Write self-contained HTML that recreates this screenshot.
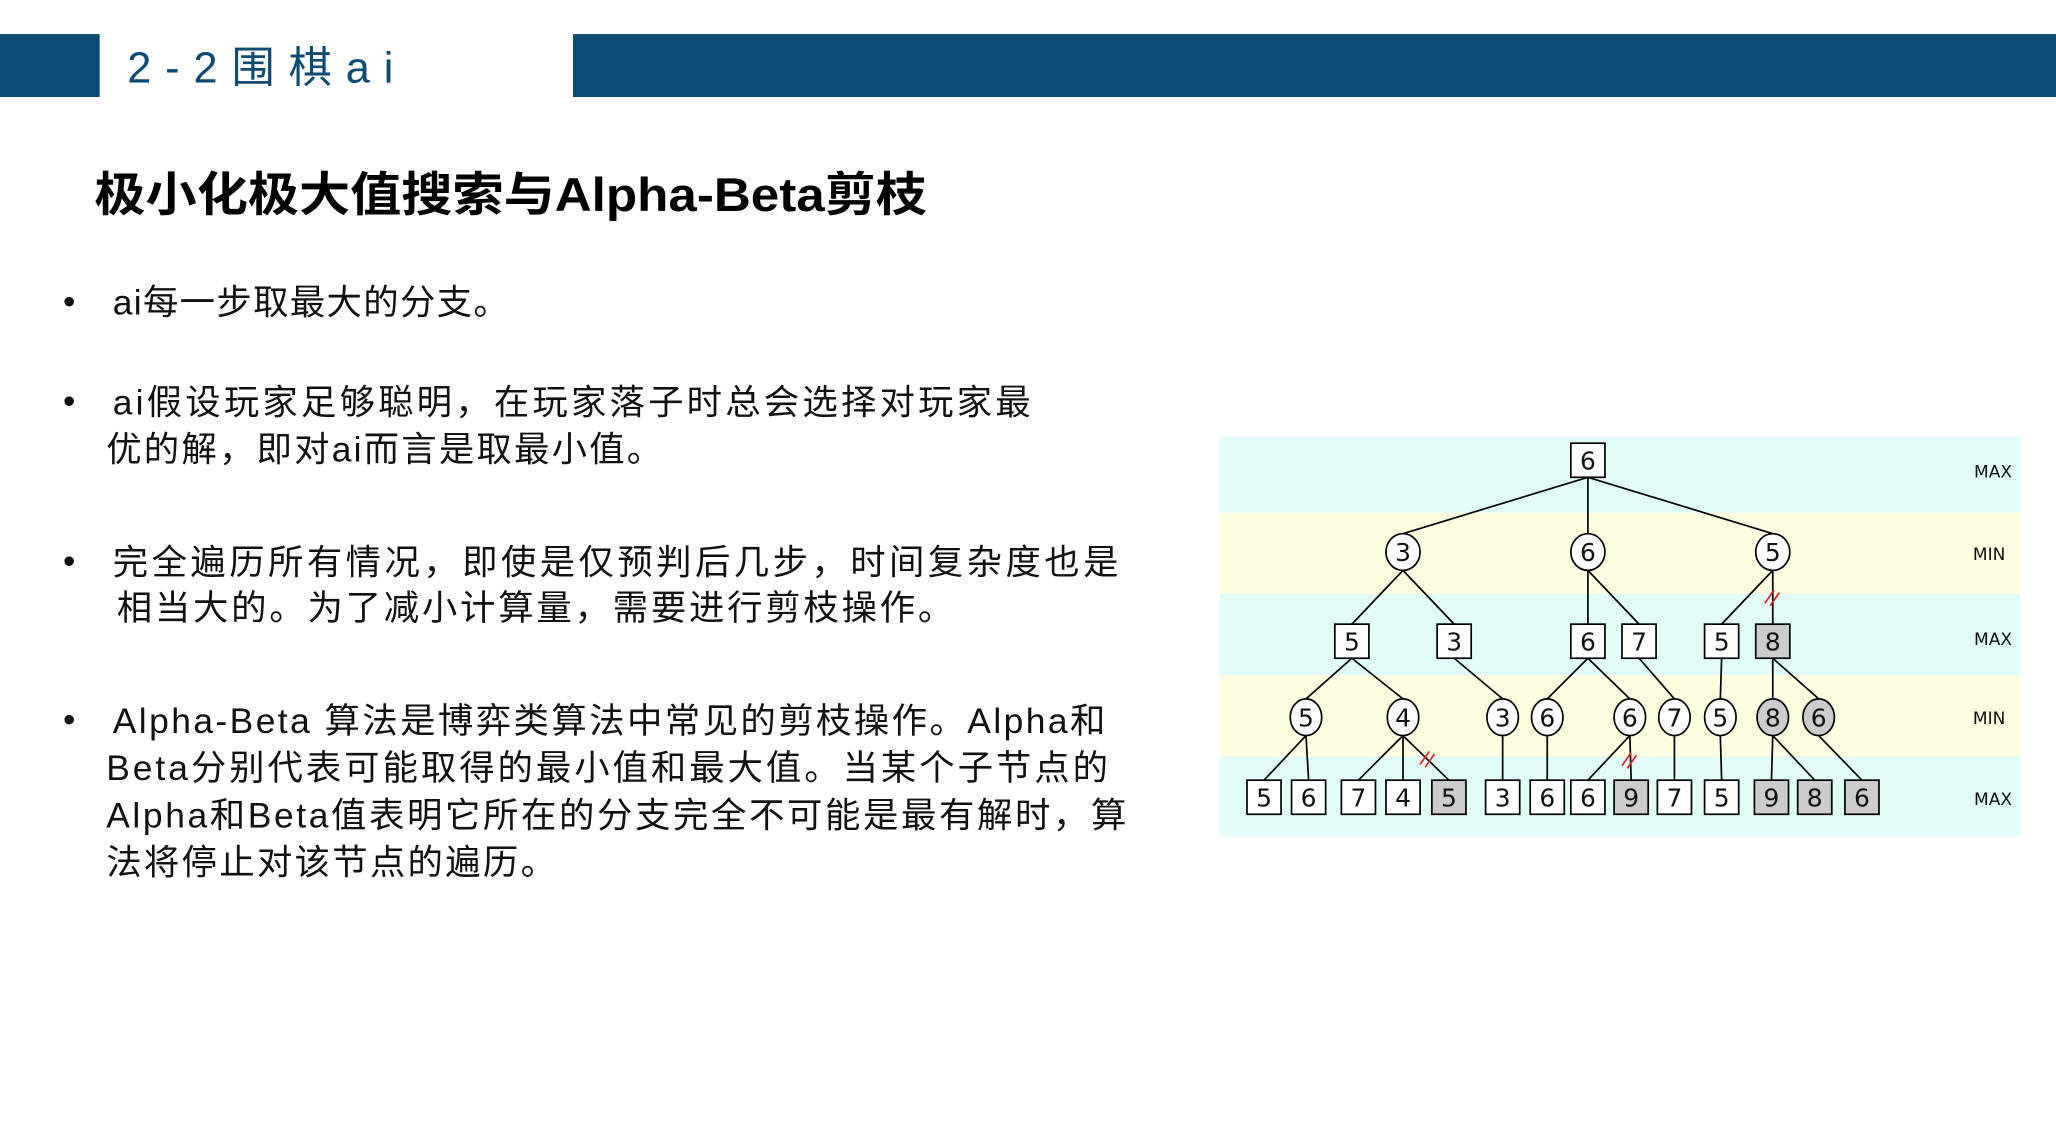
<!DOCTYPE html>
<html><head><meta charset="utf-8"><style>html,body{margin:0;padding:0;background:#fff;width:2056px;height:1135px;overflow:hidden}svg{display:block}</style></head><body>
<svg width="2056" height="1135" viewBox="0 0 1568 865.6" xmlns="http://www.w3.org/2000/svg" font-family="'Liberation Sans','Noto Sans CJK SC',sans-serif">
<rect x="0" y="26" width="76" height="48" fill="#0b4a73"/>
<rect x="437" y="26" width="1131" height="48" fill="#0b4a73"/>
<text x="97" y="63" font-size="33" fill="#0b4a73" textLength="203" lengthAdjust="spacing">2-2围棋ai</text>
<text x="72" y="161" font-size="36" font-weight="bold" fill="#000" textLength="635" lengthAdjust="spacingAndGlyphs">极小化极大值搜索与Alpha-Beta剪枝</text>
<g font-size="27" fill="#111">
<text x="48" y="239">•</text><text x="86" y="240" textLength="302">ai每一步取最大的分支。</text>
<text x="48" y="315">•</text><text x="86" y="316" textLength="700">ai假设玩家足够聪明，在玩家落子时总会选择对玩家最</text>
<text x="81" y="352" textLength="424">优的解，即对ai而言是取最小值。</text>
<text x="48" y="437">•</text><text x="86" y="438" textLength="767">完全遍历所有情况，即使是仅预判后几步，时间复杂度也是</text>
<text x="89" y="473" textLength="638">相当大的。为了减小计算量，需要进行剪枝操作。</text>
<text x="48" y="558">•</text><text x="86" y="559" textLength="757">Alpha-Beta 算法是博弈类算法中常见的剪枝操作。Alpha和</text>
<text x="81" y="595" textLength="764">Beta分别代表可能取得的最小值和最大值。当某个子节点的</text>
<text x="81" y="631" textLength="778">Alpha和Beta值表明它所在的分支完全不可能是最有解时，算</text>
<text x="81" y="667" textLength="343">法将停止对该节点的遍历。</text>
</g>
<rect x="930" y="333" width="611" height="58" fill="#e0fdf8"/>
<rect x="930" y="391" width="611" height="62" fill="#fdfde0"/>
<rect x="930" y="453" width="611" height="62" fill="#e0fdf8"/>
<rect x="930" y="515" width="611" height="62" fill="#fdfde0"/>
<rect x="930" y="577" width="611" height="61" fill="#e0fdf8"/>
<g font-family="'DejaVu Sans',sans-serif" font-size="13" fill="#111" text-anchor="middle">
<text x="1520" y="364">MAX</text><text x="1517" y="427">MIN</text><text x="1520" y="492">MAX</text><text x="1517" y="552">MIN</text><text x="1520" y="614">MAX</text>
</g>
<g stroke="#000" stroke-width="1.3" fill="none">
<line x1="1211" y1="364" x2="1070" y2="407"/><line x1="1211" y1="364" x2="1211" y2="407"/><line x1="1211" y1="364" x2="1352" y2="407"/>
<line x1="1070" y1="435" x2="1031" y2="476"/><line x1="1070" y1="435" x2="1109" y2="476"/>
<line x1="1211" y1="435" x2="1211" y2="476"/><line x1="1211" y1="435" x2="1250" y2="476"/>
<line x1="1352" y1="435" x2="1313" y2="476"/><line x1="1352" y1="435" x2="1352" y2="476"/>
<line x1="1031" y1="502" x2="996" y2="533"/><line x1="1031" y1="502" x2="1070" y2="533"/>
<line x1="1109" y1="502" x2="1146" y2="533"/>
<line x1="1211" y1="502" x2="1180" y2="533"/><line x1="1211" y1="502" x2="1243" y2="533"/>
<line x1="1250" y1="502" x2="1277" y2="533"/>
<line x1="1313" y1="502" x2="1312" y2="533"/>
<line x1="1352" y1="502" x2="1352" y2="533"/><line x1="1352" y1="502" x2="1387" y2="533"/>
<line x1="996" y1="561" x2="964" y2="595"/><line x1="996" y1="561" x2="998" y2="595"/>
<line x1="1070" y1="561" x2="1036" y2="595"/><line x1="1070" y1="561" x2="1070" y2="595"/><line x1="1070" y1="561" x2="1105" y2="595"/>
<line x1="1146" y1="561" x2="1146" y2="595"/>
<line x1="1180" y1="561" x2="1180" y2="595"/>
<line x1="1243" y1="561" x2="1211" y2="595"/><line x1="1243" y1="561" x2="1244" y2="595"/>
<line x1="1277" y1="561" x2="1277" y2="595"/>
<line x1="1312" y1="561" x2="1313" y2="595"/>
<line x1="1352" y1="561" x2="1351" y2="595"/><line x1="1352" y1="561" x2="1384" y2="595"/>
<line x1="1387" y1="561" x2="1420" y2="595"/>
</g>
<g stroke="#e02020" stroke-width="1.3">
<line x1="1346" y1="460" x2="1353" y2="450"/><line x1="1350" y1="462" x2="1357" y2="452"/>
<line x1="1083" y1="583" x2="1090" y2="573"/><line x1="1087" y1="585" x2="1094" y2="575"/>
<line x1="1237" y1="584" x2="1244" y2="574"/><line x1="1241" y1="586" x2="1248" y2="576"/>
</g>
<g stroke="#000" stroke-width="1.3" font-family="'DejaVu Sans',sans-serif" font-size="19" text-anchor="middle">
<rect x="1198" y="338" width="26" height="26" fill="#fff"/>
<ellipse cx="1070" cy="421" rx="13" ry="14" fill="#fff"/><ellipse cx="1211" cy="421" rx="13" ry="14" fill="#fff"/><ellipse cx="1352" cy="421" rx="13" ry="14" fill="#fff"/>
<rect x="1018" y="476" width="26" height="26" fill="#fff"/><rect x="1096" y="476" width="26" height="26" fill="#fff"/><rect x="1198" y="476" width="26" height="26" fill="#fff"/><rect x="1237" y="476" width="26" height="26" fill="#fff"/><rect x="1300" y="476" width="26" height="26" fill="#fff"/><rect x="1339" y="476" width="26" height="26" fill="#ccc"/>
<ellipse cx="996" cy="547" rx="12" ry="14" fill="#fff"/><ellipse cx="1070" cy="547" rx="12" ry="14" fill="#fff"/><ellipse cx="1146" cy="547" rx="12" ry="14" fill="#fff"/><ellipse cx="1180" cy="547" rx="12" ry="14" fill="#fff"/><ellipse cx="1243" cy="547" rx="12" ry="14" fill="#fff"/><ellipse cx="1277" cy="547" rx="12" ry="14" fill="#fff"/><ellipse cx="1312" cy="547" rx="12" ry="14" fill="#fff"/><ellipse cx="1352" cy="547" rx="12" ry="14" fill="#ccc"/><ellipse cx="1387" cy="547" rx="12" ry="14" fill="#ccc"/>
<rect x="951" y="595" width="26" height="26" fill="#fff"/><rect x="985" y="595" width="26" height="26" fill="#fff"/><rect x="1023" y="595" width="26" height="26" fill="#fff"/><rect x="1057" y="595" width="26" height="26" fill="#fff"/><rect x="1092" y="595" width="26" height="26" fill="#ccc"/><rect x="1133" y="595" width="26" height="26" fill="#fff"/><rect x="1167" y="595" width="26" height="26" fill="#fff"/><rect x="1198" y="595" width="26" height="26" fill="#fff"/><rect x="1231" y="595" width="26" height="26" fill="#ccc"/><rect x="1264" y="595" width="26" height="26" fill="#fff"/><rect x="1300" y="595" width="26" height="26" fill="#fff"/><rect x="1338" y="595" width="26" height="26" fill="#ccc"/><rect x="1371" y="595" width="26" height="26" fill="#ccc"/><rect x="1407" y="595" width="26" height="26" fill="#ccc"/>
<g stroke="none" fill="#111">
<text x="1211" y="358">6</text>
<text x="1070" y="428">3</text><text x="1211" y="428">6</text><text x="1352" y="428">5</text>
<text x="1031" y="496">5</text><text x="1109" y="496">3</text><text x="1211" y="496">6</text><text x="1250" y="496">7</text><text x="1313" y="496">5</text><text x="1352" y="496">8</text>
<text x="996" y="554">5</text><text x="1070" y="554">4</text><text x="1146" y="554">3</text><text x="1180" y="554">6</text><text x="1243" y="554">6</text><text x="1277" y="554">7</text><text x="1312" y="554">5</text><text x="1352" y="554">8</text><text x="1387" y="554">6</text>
<text x="964" y="615">5</text><text x="998" y="615">6</text><text x="1036" y="615">7</text><text x="1070" y="615">4</text><text x="1105" y="615">5</text><text x="1146" y="615">3</text><text x="1180" y="615">6</text><text x="1211" y="615">6</text><text x="1244" y="615">9</text><text x="1277" y="615">7</text><text x="1313" y="615">5</text><text x="1351" y="615">9</text><text x="1384" y="615">8</text><text x="1420" y="615">6</text>
</g>
</g>
</svg>
</body></html>
